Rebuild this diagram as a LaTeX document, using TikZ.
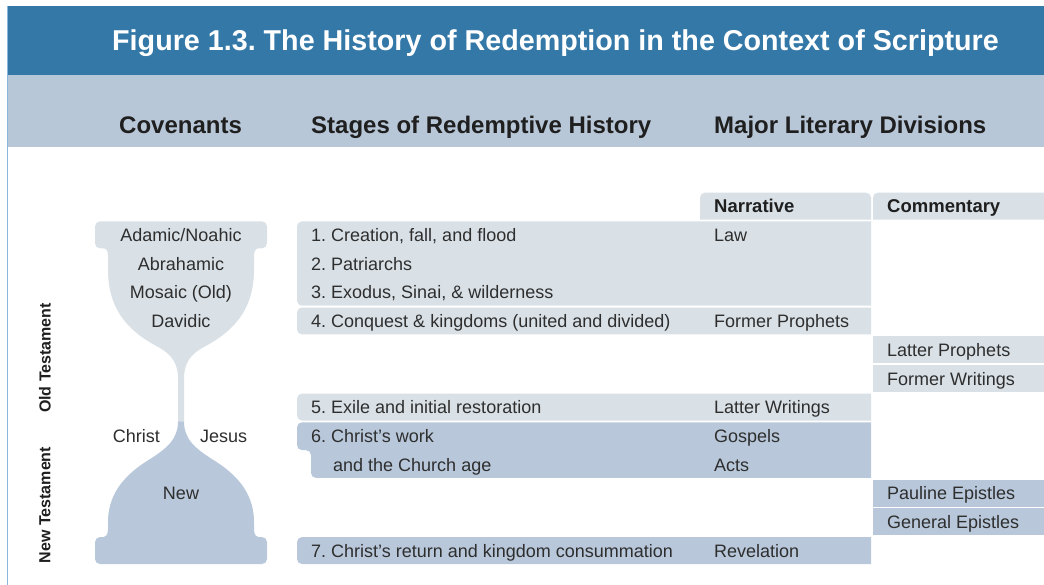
\documentclass[tikz,border=0pt]{standalone}
\usepackage{fontspec}
\setmainfont{Liberation Sans}
\frenchspacing
\definecolor{titleblue}{HTML}{3478A8}
\definecolor{headband}{HTML}{B8C7D8}
\definecolor{lightband}{HTML}{D9E1E7}
\definecolor{darkband}{HTML}{B8C8DA}
\definecolor{edgeblue}{HTML}{8AB6DC}
\definecolor{txt}{HTML}{2E2E2E}
\begin{document}
\frenchspacing
\begin{tikzpicture}[x=1pt,y=-1pt,
 body/.style={font=\fontsize{18}{21}\selectfont\frenchspacing, text=txt, inner sep=0pt, anchor=base west},
 bodyc/.style={body, anchor=base},
 colhead/.style={font=\fontsize{24}{28}\selectfont\bfseries, text=black!88, inner sep=0pt, anchor=base west},
 subhead/.style={font=\fontsize{18.5}{22}\selectfont\bfseries, text=black!88, inner sep=0pt, anchor=base west},
 testament/.style={font=\fontsize{16}{19}\selectfont\bfseries, text=black!88, inner sep=0pt, rotate=90},
 lightfill/.style={fill=lightband},
 darkfill/.style={fill=darkband},
 leftround/.style={rounded corners=5pt}]
\useasboundingbox (0,0) rectangle (1044,584);
\fill[white] (0,0) rectangle (1044,584);
% header bands
\fill[titleblue] (7,6) rectangle (1050,75);
\fill[headband] (7,75) rectangle (1050,147);
\draw[edgeblue, line width=1.3pt] (7.6,6) -- (7.6,590);
\node[font=\fontsize{28.7}{32}\selectfont\bfseries\frenchspacing, text=white, inner sep=0pt, anchor=base west] (title) at (112,50.3) {Figure 1.3. The History of Redemption in the Context of Scripture};
\node[colhead] (hcov) at (119,133.6) {Covenants};
\node[colhead] (hstage) at (311,133.6) {Stages of Redemptive History};
\node[colhead] (hlit) at (714,133.6) {Major Literary Divisions};
% tabs
\fill[lightfill, leftround] (700,219.6) -- (700,192.7) -- (871,192.7) -- (871,219.6);
\fill[lightfill, leftround] (873,219.6) -- (873,192.7) -- (1050,192.7) -- (1050,219.6);
\node[subhead] (hnarr) at (714,212.8) {Narrative};
\node[subhead] (hcomm) at (887,212.8) {Commentary};
% stage bands
\fill[lightfill, leftround] (871,221.4) -- (297,221.4) -- (297,305.7) -- (871,305.7);
\fill[lightfill, leftround] (871,307.5) -- (297,307.5) -- (297,334.4) -- (871,334.4);
\fill[lightfill, leftround] (871,393.6) -- (297,393.6) -- (297,420.5) -- (871,420.5);
\fill[darkfill, leftround] (871,422.3) -- (297,422.3) -- (297,450.1) -- (311,450.1) -- (311,477.9) -- (871,477.9);
\fill[darkfill, leftround] (871,537.1) -- (297,537.1) -- (297,564.0) -- (871,564.0);
% commentary bands
\fill[lightfill] (873,336.2) rectangle (1050,363.1);
\fill[lightfill] (873,364.9) rectangle (1050,391.8);
\fill[darkfill] (873,479.7) rectangle (1050,506.6);
\fill[darkfill] (873,508.4) rectangle (1050,535.3);
% hourglass
\fill[lightfill] (100,240) -- (100,247.5) .. controls (106,247.5) and (108,250) .. (108,256) -- (108,270)
  .. controls (108,315) and (135,335) .. (160,348) .. controls (172,355) and (178,364) .. (178,378)
  -- (178,421.4) -- (184,421.4) -- (184,378) .. controls (184,364) and (190,355) .. (202,348)
  .. controls (227,335) and (254,315) .. (254,270) -- (254,256) .. controls (254,250) and (256,247.5) .. (262,247.5)
  -- (262,240) -- cycle;
\fill[lightfill, rounded corners=5pt] (95,221.4) rectangle (267,248.3);
\fill[darkfill] (178,421.4) .. controls (178,440) and (166,449) .. (147,461) .. controls (120,478) and (108,498) .. (108,522)
  -- (108,529) .. controls (108,535) and (106,537.5) .. (100,537.5) -- (100,545) -- (262,545) -- (262,537.5)
  .. controls (256,537.5) and (254,535) .. (254,529) -- (254,522) .. controls (254,498) and (242,478) .. (215,461)
  .. controls (196,449) and (184,440) .. (184,421.4) -- cycle;
\fill[darkfill, rounded corners=5pt] (95,537.1) rectangle (267,564.0);
% covenant texts
\node[bodyc] (cadam) at (181,241.5) {Adamic/Noahic};
\node[bodyc] (cabr) at (181,270.2) {Abrahamic};
\node[bodyc] (cmos) at (181,298.9) {Mosaic (Old)};
\node[bodyc] (cdav) at (181,327.6) {Davidic};
\node[body, anchor=base east] (christ) at (160,442.4) {Christ};
\node[body] (jesus) at (200,442.4) {Jesus};
\node[bodyc] (cnew) at (181,499.8) {New};
% testament labels
\node[testament] (ot) at (45,358) {Old Testament};
\node[testament] (nt) at (45,505) {New Testament};
% stages
\node[body] (s1) at (311,241.5) {1. Creation, fall, and flood};
\node[body] (s2) at (311,270.2) {2. Patriarchs};
\node[body] (s3) at (311,298.9) {3. Exodus, Sinai, \& wilderness};
\node[body] (s4) at (311,327.6) {4. Conquest \& kingdoms (united and divided)};
\node[body] (s5) at (311,413.7) {5. Exile and initial restoration};
\node[body] (s6) at (311,442.4) {6. Christ’s work};
\node[body] (s6b) at (333,471.1) {and the Church age};
\node[body] (s7) at (311,557.2) {7. Christ’s return and kingdom consummation};
% narrative
\node[body] (nlaw) at (714,241.5) {Law};
\node[body] (nfp) at (714,327.6) {Former Prophets};
\node[body] (nlw) at (714,413.7) {Latter Writings};
\node[body] (ngos) at (714,442.4) {Gospels};
\node[body] (nacts) at (714,471.1) {Acts};
\node[body] (nrev) at (714,557.2) {Revelation};
% commentary
\node[body] (clp) at (887,356.3) {Latter Prophets};
\node[body] (cfw) at (887,385.0) {Former Writings};
\node[body] (cpe) at (887,499.8) {Pauline Epistles};
\node[body] (cge) at (887,528.5) {General Epistles};
\end{tikzpicture}
\end{document}
